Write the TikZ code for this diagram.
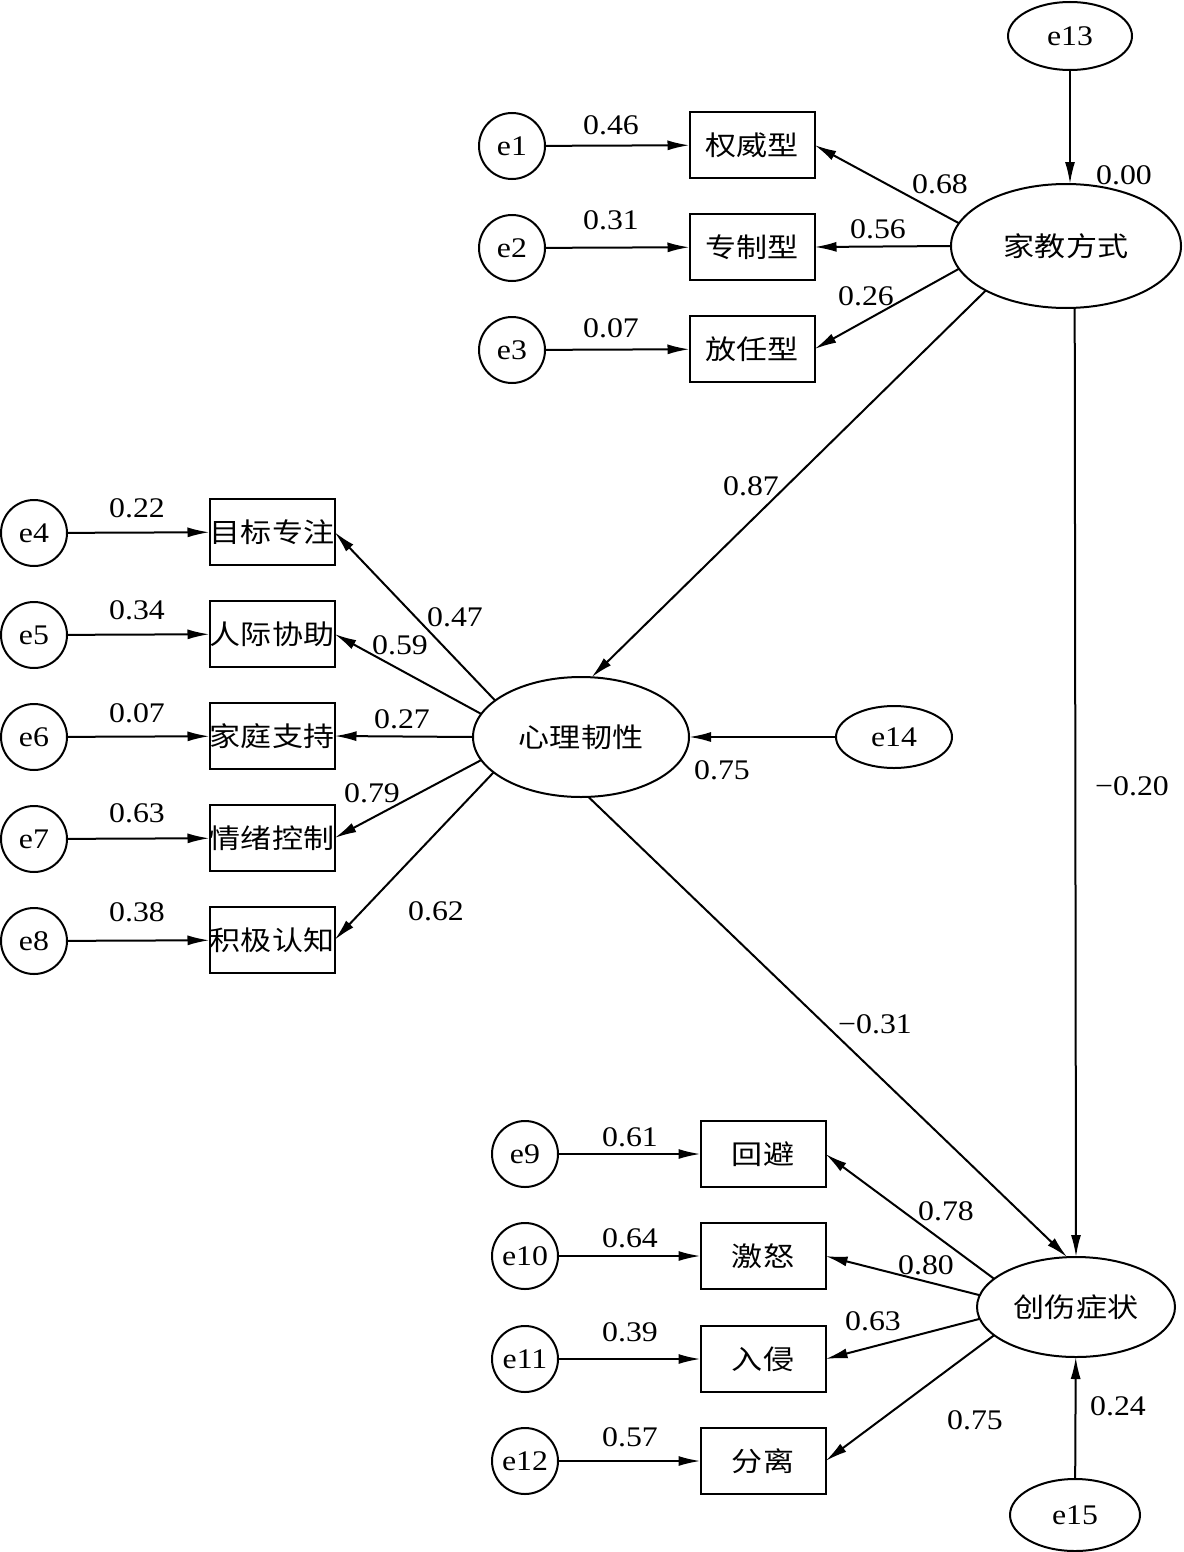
\documentclass[tikz,border=0pt]{standalone}
\usepackage{fontspec}
\setmainfont{Liberation Serif}[FakeStretch=1.12]
\newfontfamily\cjk{Noto Sans CJK SC}[FakeStretch=1.15]
\usetikzlibrary{shapes.geometric,arrows.meta}

\begin{document}
\begin{tikzpicture}[x=0.5pt,y=-0.5pt,
	every node/.style={font=\fontsize{14.2}{16}\selectfont,inner sep=0pt,outer sep=0pt},
	err/.style={draw,line width=1pt,circle,minimum size=33pt},
	lat/.style={draw,line width=1pt,ellipse},
	obs/.style={draw,line width=1pt,minimum width=62.5pt,minimum height=33pt,font=\cjk\fontsize{13.5}{16}\selectfont},
	lnk/.style={line width=1pt,-{Latex[length=11pt,width=5pt]}}]
	\useasboundingbox (0,0) rectangle (1183,1552);

	% latent variables
	\node[lat,minimum width=115pt,minimum height=62pt] (jjfs) at (1066,246) {\cjk\fontsize{13.5}{16}\selectfont 家教方式};
	\node[lat,minimum width=108pt,minimum height=60pt] (xlrx) at (581,737) {\cjk\fontsize{13.5}{16}\selectfont 心理韧性};
	\node[lat,minimum width=99pt,minimum height=50pt] (cszz) at (1076,1307) {\cjk\fontsize{13.5}{16}\selectfont 创伤症状};
	\node[lat,minimum width=62pt,minimum height=34pt] (e13) at (1070,36) {e13};
	\node[lat,minimum width=58pt,minimum height=31pt] (e14) at (894,737) {e14};
	\node[lat,minimum width=65pt,minimum height=36pt] (e15) at (1075,1515) {e15};

	% family education
	\node[obs] (qwx) at (752,145) {权威型};
	\node[obs] (zzx) at (752,247) {专制型};
	\node[obs] (frx) at (752,349) {放任型};
	\node[err] (e1) at (512,146) {e1};
	\node[err] (e2) at (512,248) {e2};
	\node[err] (e3) at (512,350) {e3};

	% resilience
	\node[obs] (mbzz) at (272,532) {目标专注};
	\node[obs] (rjxz) at (272,634) {人际协助};
	\node[obs] (jtzc) at (272,736) {家庭支持};
	\node[obs] (qxkz) at (272,838) {情绪控制};
	\node[obs] (jjrz) at (272,940) {积极认知};
	\node[err] (e4) at (34,533) {e4};
	\node[err] (e5) at (34,635) {e5};
	\node[err] (e6) at (34,737) {e6};
	\node[err] (e7) at (34,839) {e7};
	\node[err] (e8) at (34,941) {e8};

	% trauma symptoms
	\node[obs] (hb) at (763,1154) {回避};
	\node[obs] (jn) at (763,1256) {激怒};
	\node[obs] (rq) at (763,1359) {入侵};
	\node[obs] (fl) at (763,1461) {分离};
	\node[err] (e9) at (525,1154) {e9};
	\node[err] (e10) at (525,1256) {e10};
	\node[err] (e11) at (525,1359) {e11};
	\node[err] (e12) at (525,1461) {e12};

	% paths
	\draw[lnk] (e1) -- (qwx);
	\draw[lnk] (e2) -- (zzx);
	\draw[lnk] (e3) -- (frx);
	\draw[lnk] (jjfs.168) -- (qwx.east);
	\draw[lnk] (jjfs.west) -- (zzx.east);
	\draw[lnk] (jjfs.192) -- (frx.east);
	\draw[lnk] (e13.south) -- (e13.south |- jjfs.north);
	\draw[lnk] (jjfs.209) -- (xlrx.80);
	\draw[lnk] (jjfs.278) -- (cszz.north);

	\draw[lnk] (e4) -- (mbzz);
	\draw[lnk] (e5) -- (rjxz);
	\draw[lnk] (e6) -- (jtzc);
	\draw[lnk] (e7) -- (qxkz);
	\draw[lnk] (e8) -- (jjrz);
	\draw[lnk] (xlrx.157) -- (mbzz.east);
	\draw[lnk] (xlrx.167) -- (rjxz.east);
	\draw[lnk] (xlrx.west) -- (jtzc.east);
	\draw[lnk] (xlrx.193) -- (qxkz.east);
	\draw[lnk] (xlrx.202) -- (jjrz.east);
	\draw[lnk] (e14.west) -- (xlrx.east);
	\draw[lnk] (xlrx.277) -- (cszz.100);

	\draw[lnk] (e9) -- (hb);
	\draw[lnk] (e10) -- (jn);
	\draw[lnk] (e11) -- (rq);
	\draw[lnk] (e12) -- (fl);
	\draw[lnk] (cszz.161) -- (hb.east);
	\draw[lnk] (cszz.173) -- (jn.east);
	\draw[lnk] (cszz.187) -- (rq.east);
	\draw[lnk] (cszz.199) -- (fl.east);
	\draw[lnk] (e15) -- (cszz);

	% estimates
	\node (w1) at (611,125) {0.46};
	\node (w2) at (611,220) {0.31};
	\node (w3) at (611,328) {0.07};
	\node (w4) at (137,508) {0.22};
	\node (w5) at (137,610) {0.34};
	\node (w6) at (137,713) {0.07};
	\node (w7) at (137,813) {0.63};
	\node (w8) at (137,912) {0.38};
	\node (w9) at (630,1137) {0.61};
	\node (w10) at (630,1238) {0.64};
	\node (w11) at (630,1332) {0.39};
	\node (w12) at (630,1437) {0.57};
	\node (wqwx) at (940,184) {0.68};
	\node (wzzx) at (878,229) {0.56};
	\node (wfrx) at (866,296) {0.26};
	\node (wjjfs) at (1124,175) {0.00};
	\node (wmbzz) at (455,617) {0.47};
	\node (wrjxz) at (400,645) {0.59};
	\node (wjtzc) at (402,719) {0.27};
	\node (wqxkz) at (372,793) {0.79};
	\node (wjjrz) at (436,911) {0.62};
	\node (wxlrx) at (722,770) {0.75};
	\node (whb) at (946,1211) {0.78};
	\node (wjn) at (926,1265) {0.80};
	\node (wrq) at (873,1321) {0.63};
	\node (wfl) at (975,1420) {0.75};
	\node (wcszz) at (1118,1406) {0.24};
	\node (wa) at (751,486) {0.87};
	\node (wb) at (1132,786) {−0.20};
	\node (wc) at (875,1024) {−0.31};
\end{tikzpicture}
\end{document}
